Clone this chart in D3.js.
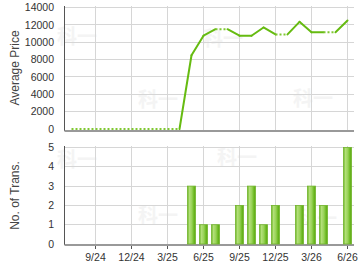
<!DOCTYPE html>
<html><head><meta charset="utf-8">
<script src="https://cdn.jsdelivr.net/npm/d3@7"></script>
<style>html,body{margin:0;padding:0;background:#fff;}svg{display:block;}</style>
</head><body>
<script>
const months = ["7/24","8/24","9/24","10/24","11/24","12/24","1/25","2/25","3/25","4/25","5/25","6/25","7/25","8/25","9/25","10/25","11/25","12/25","1/26","2/26","3/26","4/26","5/26","6/26"];
const avgPrice = [0,0,0,0,0,0,0,0,0,0,8500,10750,11500,11500,10750,10750,11700,10900,10900,12350,11150,11150,11150,12500];
const transactions = [0,0,0,0,0,0,0,0,0,0,3,1,1,0,2,3,1,2,0,2,3,2,0,5];
const xTickLabels = ["9/24","12/24","3/25","6/25","9/25","12/25","3/26","6/26"];
const priceTicks = [0,2000,4000,6000,8000,10000,12000,14000];
const transTicks = [0,1,2,3,4,5];

const W = 360, H = 270;
const svg = d3.select("body").append("svg").attr("width", W).attr("height", H);
const font = "Liberation Sans, Arial, sans-serif";

const x = d3.scalePoint().domain(months).range([71.5, 347.5]);
const left = 64.5, right = 354;
const yP = d3.scaleLinear().domain([0,14000]).range([129, 7.5]);
const yT = d3.scaleLinear().domain([0,5]).range([244, 147.5]);
const r5 = v => Math.round(v - 0.5) + 0.5;

// watermarks
const wm = [[77,35],[158,98],[223,37],[313,97],[77,158],[158,214],[237,156],[317,217]];
svg.append("g").selectAll("text").data(wm).join("text")
  .attr("x", d => d[0]).attr("y", d => d[1]).attr("text-anchor","middle").attr("dominant-baseline","central")
  .attr("font-family","Noto Sans CJK SC").attr("font-weight","bold").attr("font-size",20)
  .attr("fill","#f4f4f4").text("科一");

function panel(y, ticks, top, bottom) {
  const g = svg.append("g");
  g.selectAll("line.h").data(ticks.filter(t => t > 0)).join("line")
    .attr("x1", left).attr("x2", right).attr("y1", d => r5(y(d))).attr("y2", d => r5(y(d)))
    .attr("stroke", "#d6d6d6").attr("stroke-width", 1);
  g.selectAll("line.v").data(xTickLabels).join("line")
    .attr("x1", d => r5(x(d))).attr("x2", d => r5(x(d))).attr("y1", top).attr("y2", bottom)
    .attr("stroke", "#d6d6d6").attr("stroke-width", 1);
  g.selectAll("text.yl").data(ticks).join("text")
    .attr("x", 54).attr("y", d => y(d)).attr("dy", "0.35em").attr("text-anchor", "end")
    .attr("font-family", font).attr("font-size", 10.5).attr("fill", "#333").text(d => d);
  return g;
}

panel(yP, priceTicks, 6, 130);
panel(yT, transTicks, 146, 244);

// axes lines
svg.append("line").attr("x1", left).attr("x2", left).attr("y1", 6).attr("y2", 131).attr("stroke","#555").attr("stroke-width",1);
svg.append("line").attr("x1", left).attr("x2", right).attr("y1", 131).attr("y2", 131).attr("stroke","#999").attr("stroke-width",2);
svg.append("line").attr("x1", left).attr("x2", left).attr("y1", 146).attr("y2", 245).attr("stroke","#555").attr("stroke-width",1);
svg.append("line").attr("x1", left).attr("x2", right).attr("y1", 245).attr("y2", 245).attr("stroke","#999").attr("stroke-width",2);

// bars
const defs = svg.append("defs");
const grad = defs.append("linearGradient").attr("id","barg").attr("x1","0").attr("x2","1").attr("y1","0").attr("y2","0");
[[0,"#6db526"],[0.25,"#b2df78"],[0.55,"#98d257"],[0.8,"#6dba22"],[1,"#5aa612"]].forEach(s =>
  grad.append("stop").attr("offset", s[0]).attr("stop-color", s[1]));
svg.append("g").selectAll("rect").data(months.map((m,i)=>({m, v: transactions[i]})).filter(d => d.v > 0)).join("rect")
  .attr("x", d => x(d.m) - 4).attr("width", 8)
  .attr("y", d => yT(d.v)).attr("height", d => yT(0) - yT(d.v))
  .attr("fill", "url(#barg)").attr("stroke", "#72b52c").attr("stroke-width", 0.8);

// price line
const line = d3.line().x(d => x(d.m)).y(d => yP(d.v));
const lg = svg.append("g");
for (let i = 0; i < months.length - 1; i++) {
  const seg = [{m: months[i], v: avgPrice[i]}, {m: months[i+1], v: avgPrice[i+1]}];
  const dotted = transactions[i+1] === 0;
  lg.append("path").attr("d", line(seg)).attr("fill","none")
    .attr("stroke", dotted ? "#80c832" : "#66bb11").attr("stroke-width", 2)
    .attr("stroke-dasharray", dotted ? "2,2" : null)
    .attr("stroke-linecap", dotted ? "butt" : "round");
}

// x ticks and labels (bottom)
svg.append("g").selectAll("line").data(xTickLabels).join("line")
  .attr("x1", d => r5(x(d))).attr("x2", d => r5(x(d))).attr("y1", 246).attr("y2", 249)
  .attr("stroke","#555").attr("stroke-width",1);
svg.append("g").selectAll("text").data(xTickLabels).join("text")
  .attr("x", d => x(d)).attr("y", 260.5).attr("text-anchor","middle")
  .attr("font-family", font).attr("font-size", 10.5).attr("fill","#333").text(d => d);

// axis titles
svg.append("text").attr("transform","translate(19,68) rotate(-90)").attr("text-anchor","middle")
  .attr("font-family", font).attr("font-size", 12).attr("fill","#444").text("Average Price");
svg.append("text").attr("transform","translate(19,195.5) rotate(-90)").attr("text-anchor","middle")
  .attr("font-family", font).attr("font-size", 12).attr("fill","#444").text("No. of Trans.");
</script>
</body></html>
